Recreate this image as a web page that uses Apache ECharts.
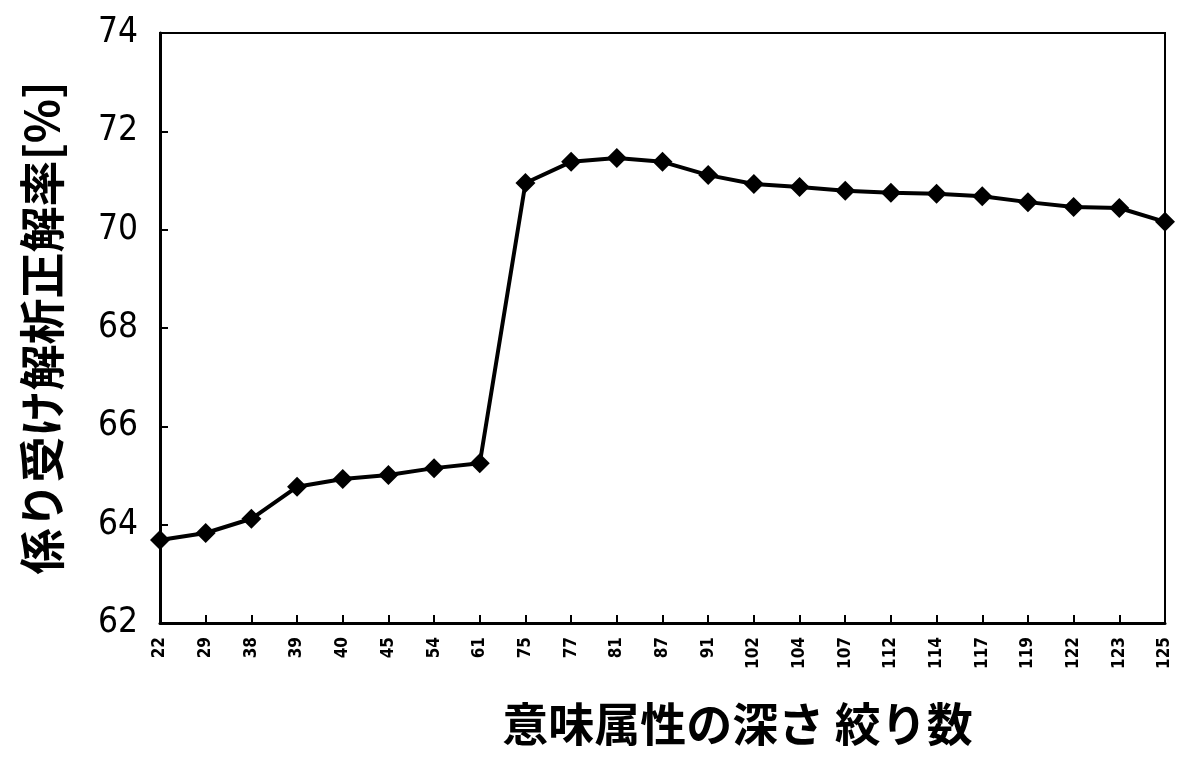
<!DOCTYPE html>
<html>
<head>
<meta charset="utf-8">
<script src="https://cdn.jsdelivr.net/npm/echarts@6/dist/echarts.min.js"></script>
<style>
  html, body { margin: 0; padding: 0; background: #fff; }
  #chart { width: 1184px; height: 760px; }
</style>
</head>
<body>
<div id="chart"></div>
<script>
  // 意味属性の深さ（横軸カテゴリ）
  const depths = ['22', '29', '38', '39', '40', '45', '54', '61', '75', '77', '81', '87', '91',
    '102', '104', '107', '112', '114', '117', '119', '122', '123', '125'];
  // 係り受け解析正解率 [%]
  const accuracy = [63.69, 63.83, 64.12, 64.77, 64.93, 65.01, 65.15, 65.25, 70.95, 71.38, 71.46,
    71.38, 71.11, 70.93, 70.87, 70.79, 70.75, 70.73, 70.68, 70.56, 70.46, 70.44, 70.16];
  const yTicks = [62, 64, 66, 68, 70, 72, 74];

  const narrow = "'Liberation Sans Narrow', 'DejaVu Sans Condensed', 'Liberation Sans', sans-serif";
  const jp = "'Noto Sans CJK JP', sans-serif";

  const chart = echarts.init(document.getElementById('chart'));
  chart.setOption({
    backgroundColor: '#fff',
    animation: false,
    grid: {
      left: 160, right: 19, top: 33, bottom: 137,
      show: true, borderColor: '#000', borderWidth: 2
    },
    xAxis: {
      type: 'category',
      data: depths,
      boundaryGap: false,
      name: '意味属性の深さ 絞り数',
      nameLocation: 'middle',
      nameGap: 78,
      nameTextStyle: { fontFamily: jp, fontSize: 46, fontWeight: 'bold', color: '#000', padding: [0, 0, 0, 150] },
      axisLine: { lineStyle: { color: '#000', width: 3 } },
      axisTick: { inside: true, length: 8, lineStyle: { color: '#000', width: 2 } },
      axisLabel: {
        rotate: 90, interval: 0, margin: 14,
        fontFamily: narrow, fontSize: 17, fontWeight: 'bold', color: '#000'
      },
      splitLine: { show: false }
    },
    yAxis: {
      type: 'value',
      min: yTicks[0],
      max: yTicks[yTicks.length - 1],
      interval: 2,
      name: '係り受け解析正解率[%]',
      nameLocation: 'middle',
      nameGap: 95,
      nameTextStyle: { fontFamily: jp, fontSize: 46, fontWeight: 'bold', color: '#000' },
      axisLine: { show: true, lineStyle: { color: '#000', width: 3 } },
      axisTick: { show: true, inside: true, length: 8, lineStyle: { color: '#000', width: 2 } },
      axisLabel: { margin: 22, fontFamily: narrow, fontSize: 35, color: '#000' },
      splitLine: { show: false }
    },
    series: [{
      type: 'line',
      data: accuracy,
      symbol: 'diamond',
      symbolSize: 20,
      itemStyle: { color: '#000' },
      lineStyle: { color: '#000', width: 4 }
    }]
  });
</script>
</body>
</html>
